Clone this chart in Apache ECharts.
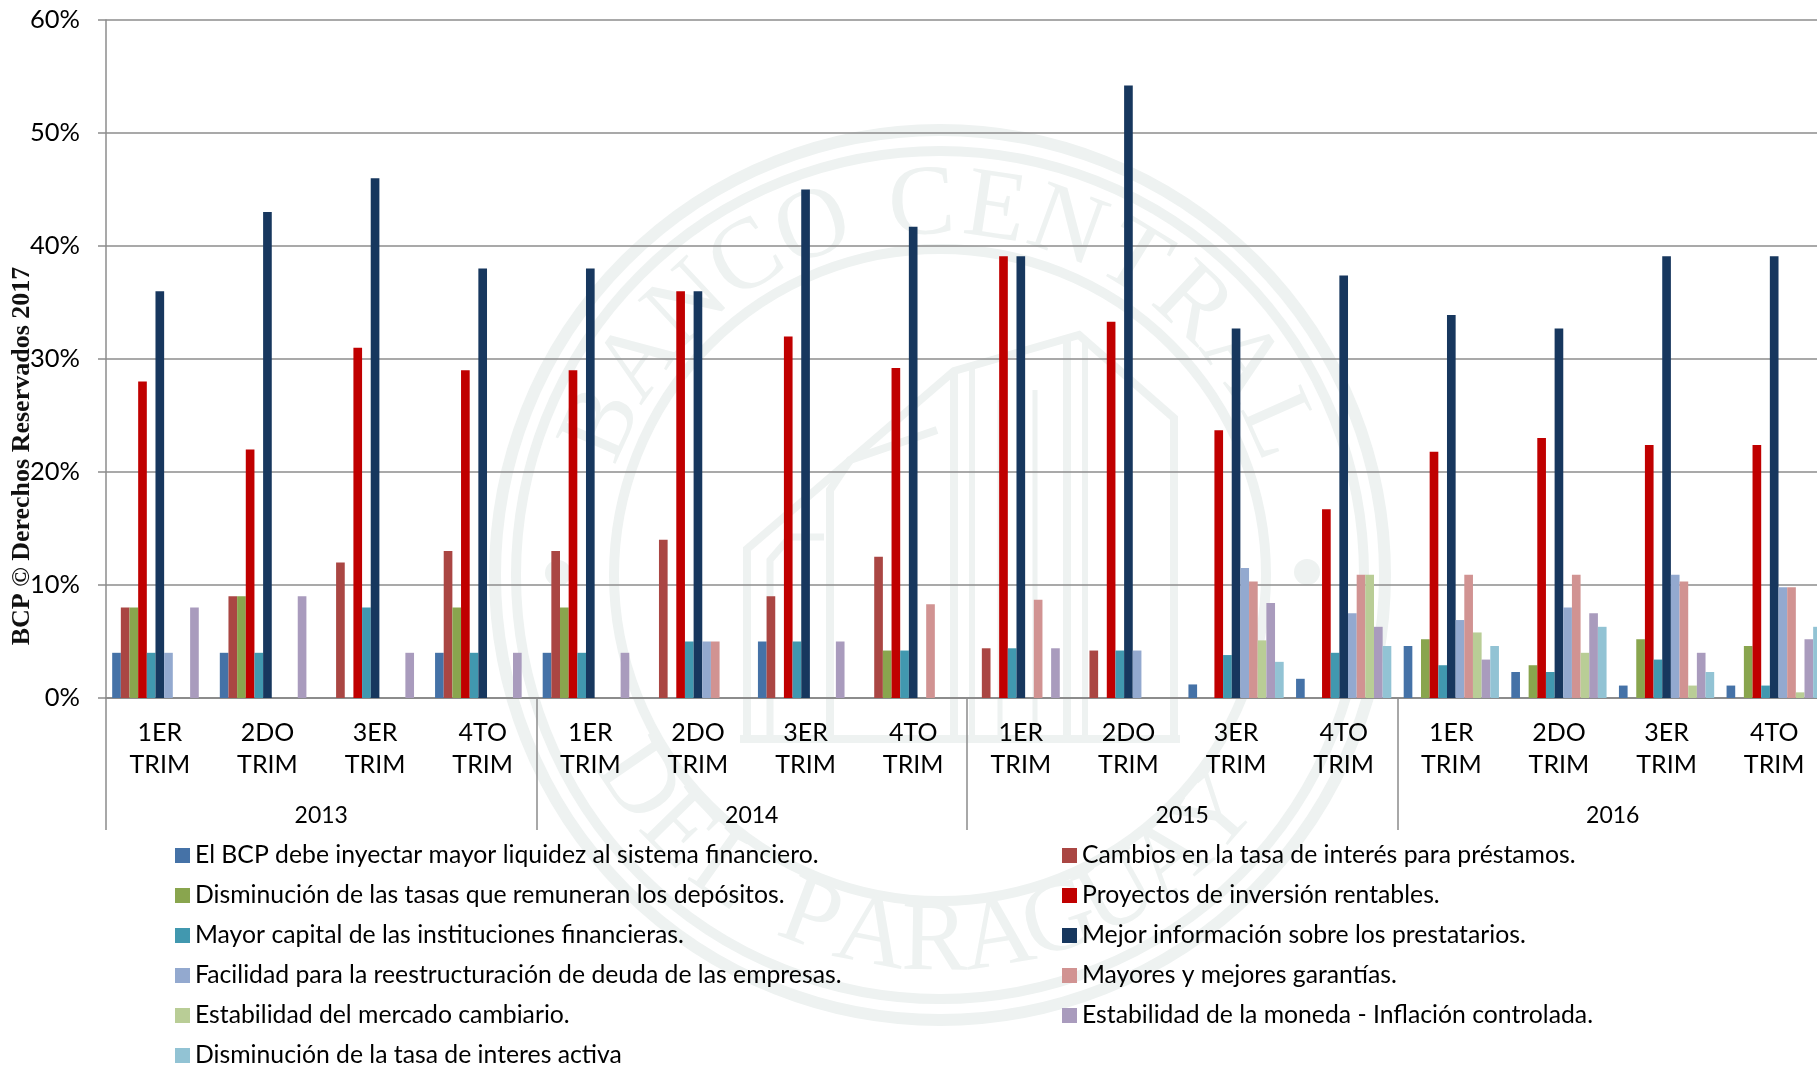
<!DOCTYPE html>
<html><head><meta charset="utf-8">
<script src="https://cdn.jsdelivr.net/npm/echarts@6/dist/echarts.min.js"></script>
<style>html,body{margin:0;padding:0;background:#fff}#c{width:1817px;height:1065px}</style>
</head><body><div id="c"></div>
<script>
const quarters = ['1ER\nTRIM','2DO\nTRIM','3ER\nTRIM','4TO\nTRIM','1ER\nTRIM','2DO\nTRIM','3ER\nTRIM','4TO\nTRIM','1ER\nTRIM','2DO\nTRIM','3ER\nTRIM','4TO\nTRIM','1ER\nTRIM','2DO\nTRIM','3ER\nTRIM','4TO\nTRIM'];
const years = ['2013','2014','2015','2016'];
const seriesNames = [
 'El BCP debe inyectar mayor liquidez al sistema financiero.',
 'Cambios en la tasa de interés para préstamos.',
 'Disminución de las tasas que remuneran los depósitos.',
 'Proyectos de inversión rentables.',
 'Mayor capital de las instituciones financieras.',
 'Mejor información sobre los prestatarios.',
 'Facilidad para la reestructuración de deuda de las empresas.',
 'Mayores y mejores garantías.',
 'Estabilidad del mercado cambiario.',
 'Estabilidad de la moneda - Inflación controlada.',
 'Disminución de la tasa de interes activa'
];
const colors = ['#4572A7','#AA4643','#89A54E','#C00000','#4198AF','#17375E','#93A9CF','#D19392','#B9CD96','#A99BBD','#92C3D4'];
const liquidez     = [4,4,0,4, 4,0,5,0, 0,0,1.2,1.7, 4.6,2.3,1.1,1.1];
const tasaInteres  = [8,9,12,13, 13,14,9,12.5, 4.4,4.2,0,0, 0,0,0,0];
const tasasDepos   = [8,9,0,8, 8,0,0,4.2, 0,0,0,0, 5.2,2.9,5.2,4.6];
const proyectos    = [28,22,31,29, 29,36,32,29.2, 39.1,33.3,23.7,16.7, 21.8,23,22.4,22.4];
const capital      = [4,4,8,4, 4,5,5,4.2, 4.4,4.2,3.8,4, 2.9,2.3,3.4,1.1];
const informacion  = [36,43,46,38, 38,36,45,41.7, 39.1,54.2,32.7,37.4, 33.9,32.7,39.1,39.1];
const facilidad    = [4,0,0,0, 0,5,0,0, 0,4.2,11.5,7.5, 6.9,8,10.9,9.8];
const garantias    = [0,0,0,0, 0,5,0,8.3, 8.7,0,10.3,10.9, 10.9,10.9,10.3,9.8];
const cambiario    = [0,0,0,0, 0,0,0,0, 0,0,5.1,10.9, 5.8,4,1.1,0.5];
const moneda       = [8,9,4,4, 4,0,5,0, 4.4,0,8.4,6.3, 3.4,7.5,4,5.2];
const tasaActiva   = [0,0,0,0, 0,0,0,0, 0,0,3.2,4.6, 4.6,6.3,2.3,6.3];
const values = [liquidez,tasaInteres,tasasDepos,proyectos,capital,informacion,facilidad,garantias,cambiario,moneda,tasaActiva];
const yTicks = [0,10,20,30,40,50,60];

const FONT = 'Lato';
const AXIS = '#8c8c8c';
const WM = '#eef2f1';
const cx = 940, cy = 575;

function ring(r, w){ return {type:'circle', z:-5, silent:true, shape:{cx,cy,r}, style:{fill:'none',stroke:WM,lineWidth:w}}; }
function arcText(str, startDeg, stepDeg, r, bottom){
  let pos = 0;
  const out = [];
  str.split('').forEach(ch=>{
    if (ch === ' ') { pos += 0.5; return; }
    const deg = startDeg + pos*stepDeg;
    const a = deg*Math.PI/180;
    const x = cx + r*Math.sin(a), y = cy - r*Math.cos(a);
    const rot = bottom ? -(deg-180) : -deg;
    out.push({type:'text', z:-5, silent:true, x, y, rotation:rot*Math.PI/180,
      style:{text:ch, fill:WM, font:'100px "Liberation Serif"', align:'center', verticalAlign:'middle'}});
    pos += 1;
  });
  return out;
}
function poly(points, w){ return {type:'polyline', z:-5, silent:true, shape:{points}, style:{fill:'none',stroke:WM,lineWidth:w||8}}; }
const watermark = [
  ring(445,12), ring(424,10), ring(326,10),
  ...arcText('BANCO CENTRAL',-66,11.48,368,false),
  ...arcText('DEL PARAGUAY',235.6,-9.96,368,true),
  {type:'circle',z:-5,silent:true,shape:{cx:1307,cy:572,r:13},style:{fill:WM}},
  {type:'circle',z:-5,silent:true,shape:{cx:558,cy:573,r:13},style:{fill:WM}},
  poly([[747,739],[747,549],[954,371],[1079,335],[1174,418],[1174,739]],8),
  poly([[740,739],[1180,739]],8),
  poly([[954,371],[954,739]],8),
  poly([[972,365],[972,739]],6),
  poly([[1067,340],[1067,739]],8),
  poly([[1085,340],[1085,739]],6),
  poly([[830,739],[830,490],[850,460],[937,430]],8),
  poly([[770,739],[770,560],[790,537],[824,537]],7),
  poly([[1000,400],[1000,739]],5),
  poly([[1035,390],[1035,739]],5)
];

const chart = echarts.init(document.getElementById('c'), null, {renderer:'canvas'});
const legendText = {fontSize:24.75,lineHeight:24,height:24,color:'#000',fontFamily:FONT};
chart.setOption({
  animation:false,
  backgroundColor:'#fff',
  textStyle:{fontFamily:FONT},
  grid:{left:106, top:20, width:1722, height:678, containLabel:false, outerBoundsMode:'none'},
  yAxis:{type:'value', min:0, max:60, interval:10,
    axisLine:{show:true,lineStyle:{color:AXIS,width:1.5}},
    axisTick:{show:true,length:8,lineStyle:{color:AXIS,width:1.5}},
    axisLabel:{formatter:v=>yTicks.includes(v)?v+'%':'', color:'#000', fontSize:25.5, margin:26, fontFamily:FONT},
    splitLine:{show:true,lineStyle:{color:AXIS,width:1.5}}},
  xAxis:[
    {type:'category', data:quarters, position:'bottom',
      axisLine:{show:true,onZero:false,lineStyle:{color:AXIS,width:2}},
      axisTick:{show:false},
      axisLabel:{interval:0,color:'#000',fontSize:25,lineHeight:32,margin:19,fontFamily:FONT}},
    {type:'category', data:years, position:'bottom', offset:0,
      axisLine:{show:false},
      axisTick:{show:true,length:132,lineStyle:{color:AXIS,width:1.5}},
      axisLabel:{interval:0,color:'#000',fontSize:23,margin:106,fontFamily:FONT},
      splitLine:{show:false}}
  ],
  legend:[
    {orient:'vertical',left:175,top:843,height:240,itemWidth:15,itemHeight:15,itemGap:15,icon:'rect',selectedMode:false,padding:0,
     data:[0,2,4,6,8,10].map(i=>seriesNames[i]),textStyle:legendText},
    {orient:'vertical',left:1062,top:843,height:240,itemWidth:15,itemHeight:15,itemGap:15,icon:'rect',selectedMode:false,padding:0,
     data:[1,3,5,7,9].map(i=>seriesNames[i]),textStyle:legendText}
  ],
  graphic:[
    ...watermark,
    {type:'text', z:50, silent:true, x:22, y:456, rotation:Math.PI/2,
      style:{text:'BCP © Derechos Reservados 2017', font:'bold 26px "Liberation Serif"', fill:'#111', align:'center', verticalAlign:'middle'}}
  ],
  series: seriesNames.map((name,i)=>({
    name, type:'bar', xAxisIndex:0, data:values[i], barWidth:8.66, barGap:0, barCategoryGap:'11.5%',
    itemStyle:{color:colors[i]}
  }))
});
</script></body></html>
